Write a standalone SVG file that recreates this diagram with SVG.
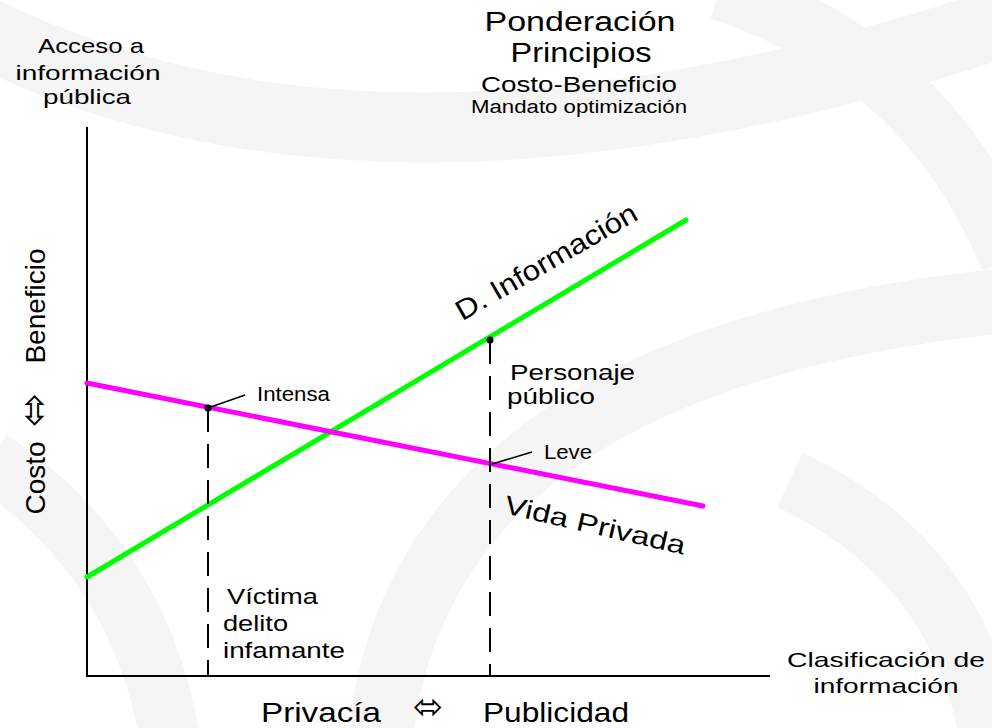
<svg xmlns="http://www.w3.org/2000/svg" width="992" height="728" viewBox="0 0 992 728">
<style>
text{font-family:"Liberation Sans",Arial,"DejaVu Sans",sans-serif;fill:#000}
.sym{font-family:"DejaVu Sans",sans-serif}
.wm{fill:none;stroke:#f5f5f5;stroke-linecap:butt}
.axis{stroke:#000;stroke-width:2;fill:none}
.dash{stroke:#000;stroke-width:2;stroke-dasharray:24 12;fill:none}
.lead{stroke:#000;stroke-width:1.5;fill:none}
</style>
<rect width="992" height="728" fill="#fff"/>
<g id="watermark">
<path class="wm" stroke-width="70" d="M-20,30 Q380,230 1010,20"/>
<path class="wm" stroke-width="60" d="M720,-10 Q930,60 1010,260"/>
<path class="wm" stroke-width="65" d="M380,740 Q420,360 1010,300"/>
<path class="wm" stroke-width="60" d="M-10,460 Q140,560 170,740"/>
<path class="wm" stroke-width="60" d="M790,480 Q960,560 990,740"/>
</g>
<g id="connectors">
<path class="axis" d="M87,127 V676 H770"/>
<line x1="87" y1="577" x2="686" y2="220" stroke="#00ff00" stroke-width="5" stroke-linecap="round"/>
<line x1="87" y1="383" x2="703" y2="506" stroke="#ff00ff" stroke-width="5" stroke-linecap="round"/>
<line class="dash" x1="208" y1="408" x2="208" y2="676"/>
<line class="dash" x1="490" y1="340" x2="490" y2="676"/>
<circle cx="208" cy="408" r="3.5" fill="#000"/>
<circle cx="490" cy="340" r="3.5" fill="#000"/>
<line class="lead" x1="208" y1="408" x2="245" y2="395"/>
<line class="lead" x1="492" y1="464" x2="532" y2="452"/>
</g>
<g id="title">
<text x="580" y="31" font-size="27" text-anchor="middle" textLength="191" lengthAdjust="spacingAndGlyphs">Ponderación</text>
<text x="581" y="62" font-size="27" text-anchor="middle" textLength="141" lengthAdjust="spacingAndGlyphs">Principios</text>
<text x="579" y="92" font-size="22" text-anchor="middle" textLength="196" lengthAdjust="spacingAndGlyphs">Costo-Beneficio</text>
<text x="579" y="113" font-size="18" text-anchor="middle" textLength="216" lengthAdjust="spacingAndGlyphs">Mandato optimización</text>
</g>
<g id="y-axis-label">
<text x="91" y="53" font-size="21" text-anchor="middle" textLength="106" lengthAdjust="spacingAndGlyphs">Acceso a</text>
<text x="88" y="80" font-size="21" text-anchor="middle" textLength="145" lengthAdjust="spacingAndGlyphs">información</text>
<text x="87" y="104" font-size="21" text-anchor="middle" textLength="88" lengthAdjust="spacingAndGlyphs">pública</text>
</g>
<g id="y-axis-scale">
<text transform="translate(45,306) rotate(-90)" font-size="28" text-anchor="middle">Beneficio</text>
<text class="sym" transform="translate(47,410) rotate(-90)" font-size="40" text-anchor="middle">⬄</text>
<text transform="translate(45,478) rotate(-90)" font-size="28" text-anchor="middle">Costo</text>
</g>
<g id="x-axis-label">
<text x="886" y="667" font-size="21" text-anchor="middle" textLength="198" lengthAdjust="spacingAndGlyphs">Clasificación de</text>
<text x="886" y="693" font-size="21" text-anchor="middle" textLength="145" lengthAdjust="spacingAndGlyphs">información</text>
</g>
<g id="x-axis-scale">
<text x="261" y="722" font-size="28" textLength="120" lengthAdjust="spacingAndGlyphs">Privacía</text>
<text class="sym" x="428" y="719" font-size="36" text-anchor="middle">⬄</text>
<text x="483" y="722" font-size="28" textLength="146" lengthAdjust="spacingAndGlyphs">Publicidad</text>
</g>
<g id="d-informacion">
<text transform="translate(551,270) rotate(-30)" font-size="28" text-anchor="middle" textLength="205" lengthAdjust="spacingAndGlyphs">D. Información</text>
</g>
<g id="vida-privada">
<text transform="translate(503,513) rotate(13)" font-size="26" textLength="185" lengthAdjust="spacingAndGlyphs">Vida Privada</text>
</g>
<g id="intensa">
<text x="257" y="401" font-size="20" textLength="73" lengthAdjust="spacingAndGlyphs">Intensa</text>
</g>
<g id="leve">
<text x="544" y="459" font-size="20" textLength="48" lengthAdjust="spacingAndGlyphs">Leve</text>
</g>
<g id="personaje-publico">
<text x="510" y="380" font-size="22" textLength="125" lengthAdjust="spacingAndGlyphs">Personaje</text>
<text x="507" y="404" font-size="22" textLength="88" lengthAdjust="spacingAndGlyphs">público</text>
</g>
<g id="victima">
<text x="227" y="604" font-size="22" textLength="91" lengthAdjust="spacingAndGlyphs">Víctima</text>
<text x="223" y="631" font-size="22" textLength="65" lengthAdjust="spacingAndGlyphs">delito</text>
<text x="223" y="658" font-size="22" textLength="122" lengthAdjust="spacingAndGlyphs">infamante</text>
</g>
</svg>
